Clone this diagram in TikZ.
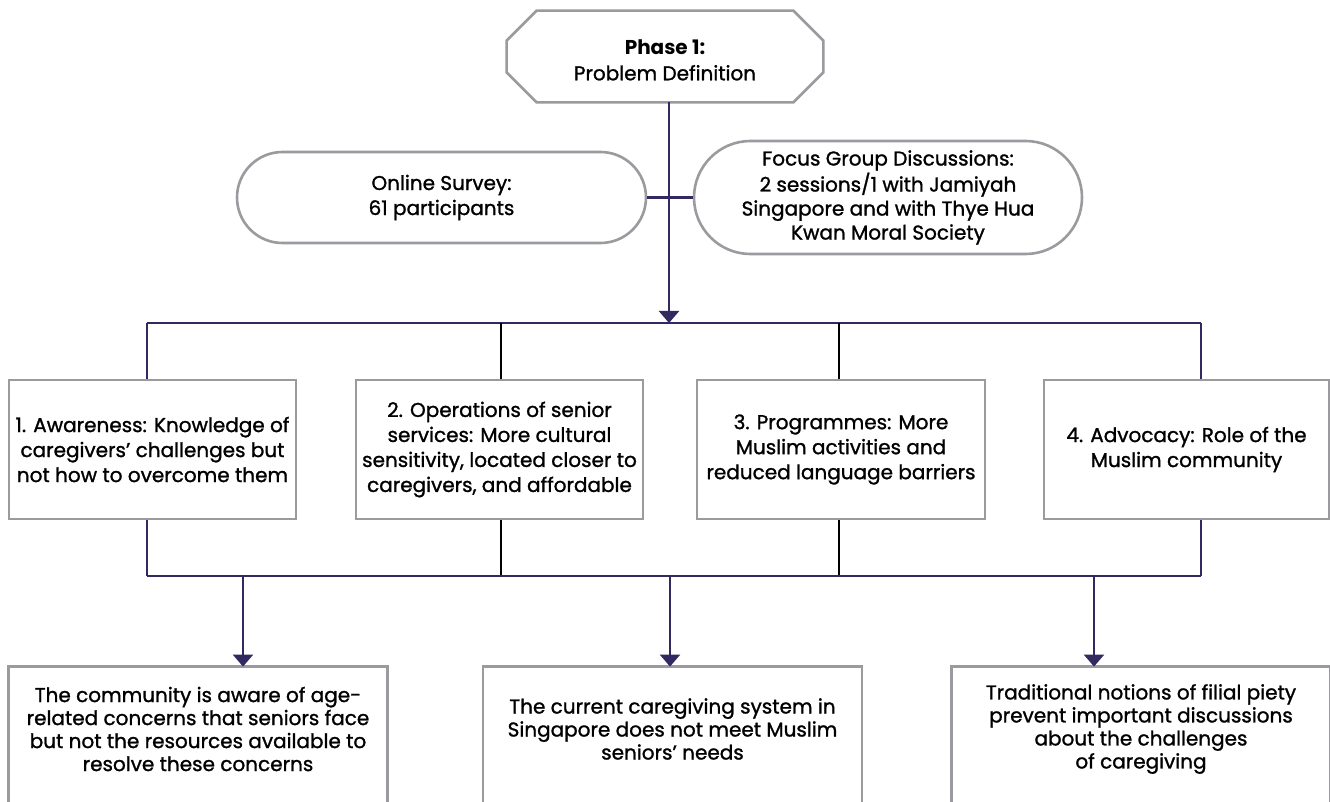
\documentclass[tikz,border=0pt]{standalone}
\usepackage{fontspec}
\setmainfont{Poppins}[UprightFeatures={FakeBold=1.2}]
\usepackage{tikz}
\usetikzlibrary{
  arrows.meta,   % Triangle tips on the flow arrows
  shapes.misc    % rounded rectangles for the data sources
}

\definecolor{flowPurple}{HTML}{31295F}
\definecolor{frameGrey}{HTML}{9B9B9F}

\tikzset{
  txt/.style={align=center, inner sep=0pt, font=\fontsize{10}{12.5}\selectfont},
  frame/.style={draw=frameGrey, line width=1.3pt},
  phasebox/.style={txt, font=\fontsize{10}{13}\selectfont,
    minimum width=158pt, minimum height=45.5pt},
  pill/.style={txt, frame, rounded rectangle, minimum height=45.5pt},
  findbox/.style={txt, frame, rectangle, minimum width=143.5pt, minimum height=69.5pt},
  outcome/.style={txt, font=\fontsize{10}{11.5}\selectfont, minimum width=189pt, minimum height=62pt},
  flow/.style={draw=flowPurple, line width=1.2pt},
  flowblack/.style={draw=black, line width=1.1pt},
  tip/.style={-{Triangle[width=10pt, length=6pt]}}
}

\begin{document}
\begin{tikzpicture}[x=0.5pt, y=-0.5pt]
          \clip (0,0) rectangle (1330,802);
          \fill[white] (0,0) rectangle (1330,802);
          \def\yTop{323}   % upper distribution line
          \def\yLow{576}   % lower collecting line
          \def\cut{15pt}   % corner cut of the phase octagon
          % phase and data sources
          \node[phasebox] (phase) at (665,60) {{\bfseries Phase 1:}\\Problem Definition};
          \draw[frame, transform canvas={yshift=1.75pt}] ([xshift=\cut]phase.north west) -- ([xshift=-\cut]phase.north east)
            -- ([yshift=-\cut]phase.north east) -- ([yshift=\cut]phase.south east)
            -- ([xshift=-\cut]phase.south east) -- ([xshift=\cut]phase.south west)
            -- ([yshift=\cut]phase.south west) -- ([yshift=-\cut]phase.north west) -- cycle;
          \node[pill, minimum width=204.5pt] (survey) at (441.5,197.5) {Online Survey:\\61 participants};
          \node[pill, minimum width=194pt, minimum height=56.5pt, font=\fontsize{10}{12}\selectfont] (focus) at (888,197.5)
            {Focus Group Discussions:\\2 sessions/1 with Jamiyah\\Singapore and with Thye Hua\\Kwan Moral Society};
          % findings
          \node[findbox] (f1) at (152.5,449.5) {1. Awareness: Knowledge of\\caregivers’ challenges but\\not how to overcome them};
          \node[findbox] (f2) at (499.5,449.5) {2. Operations of senior\\services: More cultural\\sensitivity, located closer to\\caregivers, and affordable};
          \node[findbox, minimum width=144pt] (f3) at (841,449.5) {3. Programmes: More\\Muslim activities and\\reduced language barriers};
          \node[findbox, minimum width=142.5pt] (f4) at (1186.5,449.5) {4. Advocacy: Role of the\\Muslim community};
          % outcomes, open at the lower edge
          \node[outcome] (c1) at (198,729) {The community is aware of age-\\related concerns that seniors face\\but not the resources available to\\resolve these concerns};
          \node[outcome] (c2) at (672.5,729) {The current caregiving system in\\Singapore does not meet Muslim\\seniors’ needs};
          \node[outcome] (c3) at (1141,729) {Traditional notions of filial piety\\prevent important discussions\\about the challenges\\of caregiving};
          \foreach \c in {c1,c2,c3}
            \draw[frame] ([yshift=-20pt]\c.south west) -- (\c.north west) -- (\c.north east) -- ([yshift=-20pt]\c.south east);
          % bus points
          \coordinate (t0) at (669,\yTop);
          \coordinate (t1) at (147,\yTop);
          \coordinate (t2) at (501,\yTop);
          \coordinate (t3) at (839,\yTop);
          \coordinate (t4) at (1201,\yTop);
          \coordinate (u1) at (147,\yLow);
          \coordinate (u4) at (1201,\yLow);
          \coordinate (a1) at (243,\yLow);
          \coordinate (a2) at (670,\yLow);
          \coordinate (a3) at (1094,\yLow);
          % connectors
          \draw[flow] (survey.east) -- (focus.west);
          \draw[flow, tip] ([yshift=1.75pt]phase.south -| t0) -- (t0);
          \draw[flow] (t1) -- (t4);
          \draw[flow] (t1) -- (t1 |- f1.north);
          \draw[flowblack] (t2) -- (t2 |- f2.north);
          \draw[flowblack] (t3) -- (t3 |- f3.north);
          \draw[flow] (t4) -- (t4 |- f4.north);
          \draw[flow] (t1 |- f1.south) -- (u1);
          \draw[flowblack] (t2 |- f2.south) -- (t2 |- u1);
          \draw[flowblack] (t3 |- f3.south) -- (t3 |- u1);
          \draw[flow] (t4 |- f4.south) -- (u4);
          \draw[flow] (u1) -- (u4);
          \draw[flow, tip] (a1) -- (a1 |- c1.north);
          \draw[flow, tip] (a2) -- (a2 |- c2.north);
          \draw[flow, tip] (a3) -- (a3 |- c3.north);
        \end{tikzpicture}
\end{document}
